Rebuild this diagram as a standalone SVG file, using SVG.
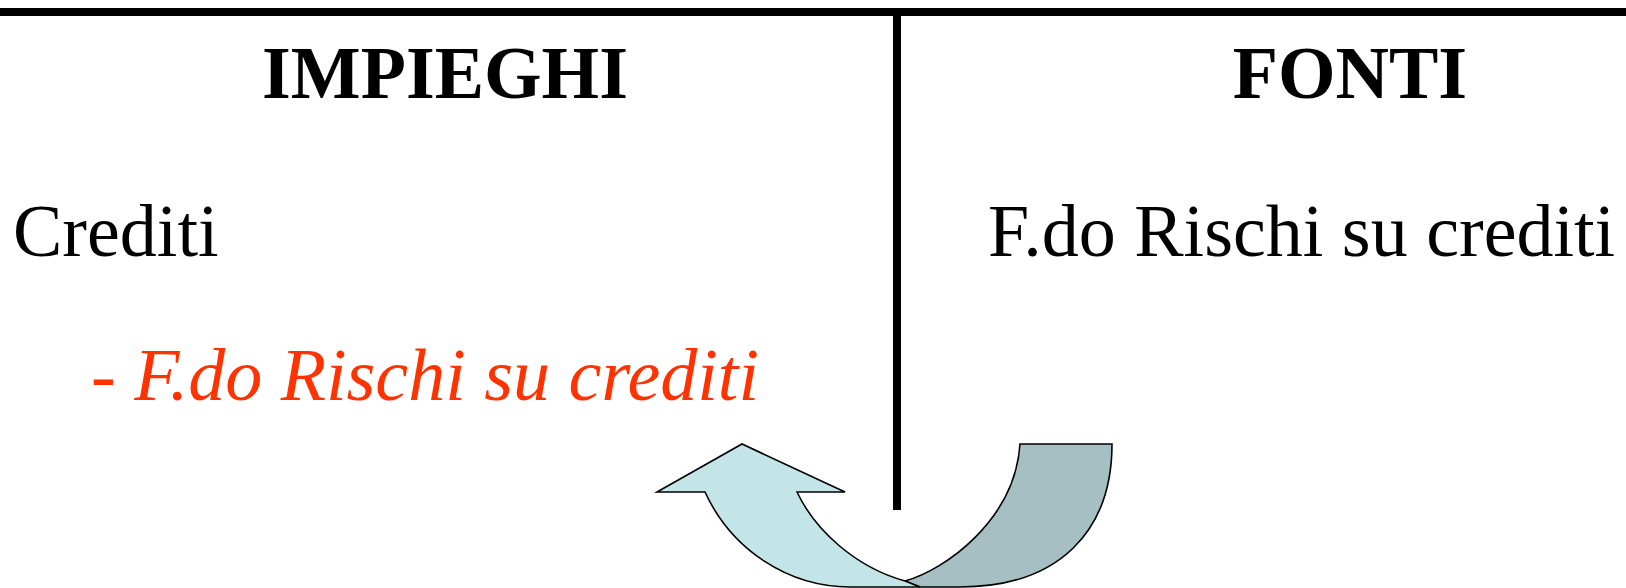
<svg xmlns="http://www.w3.org/2000/svg" width="1626" height="588" viewBox="0 0 1626 588">
<style>
.h{font-family:"Liberation Serif","Times New Roman",serif;font-weight:bold;font-size:74px;fill:#000;text-anchor:middle}
.t{font-family:"Liberation Serif","Times New Roman",serif;font-size:74px;fill:#000}
.r{font-family:"Liberation Serif","Times New Roman",serif;font-size:74px;font-style:italic;fill:#FF3300}
.ar{stroke:#000;stroke-width:1.6;stroke-linejoin:miter}
</style>
<rect width="1626" height="588" fill="#fff"/>
<g id="frame">
<rect x="0" y="8" width="1626" height="8" fill="#000"/>
<rect x="893" y="12" width="8" height="498" fill="#000"/>
</g>
<g id="impieghi"><text class="h" x="445" y="98">IMPIEGHI</text></g>
<g id="fonti"><text class="h" x="1350" y="98">FONTI</text></g>
<g id="crediti"><text class="t" x="13" y="256">Crediti</text></g>
<g id="fondo-fonti"><text class="t" x="988" y="256">F.do Rischi su crediti</text></g>
<g id="fondo-impieghi"><text class="r" x="91" y="400">- F.do Rischi su crediti</text></g>
<g id="connectors">
<path class="ar" fill="#A6BFC3" d="M1020,444 L1112,444 C1112,530 1060,587 960,587 L920,587 L905,581 C945,570 1015,520 1020,444 Z"/>
<path class="ar" fill="#C4E5E8" d="M705,492 L657,492 L742,444 L845,492 L797,492 C815,530 855,567 905,581 L920,587 L850,587 A161,167 0 0 1 705,492 Z"/>
</g>
</svg>
